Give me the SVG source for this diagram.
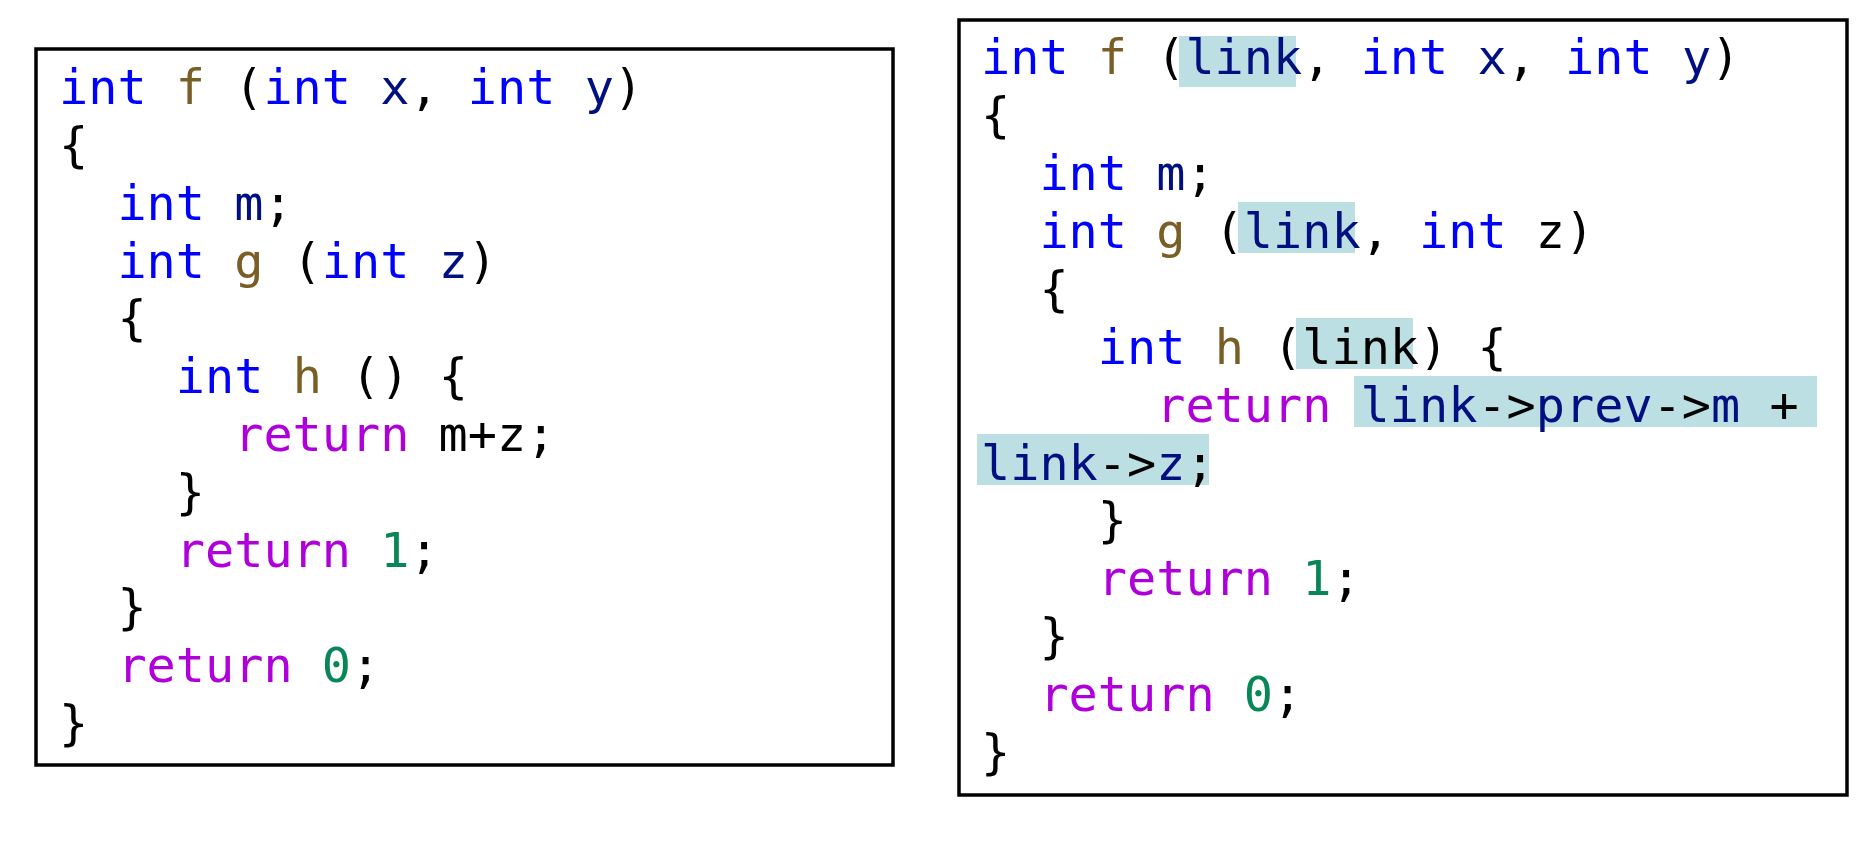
<svg xmlns="http://www.w3.org/2000/svg" width="1868" height="847" viewBox="0 0 1868 847">
<style>
text{font-family:"DejaVu Sans Mono",monospace;font-size:48.5px;fill:#000;white-space:pre}
.k{fill:#0000ff}.f{fill:#795e26}.v{fill:#001080}.r{fill:#af00db}.n{fill:#098658}
.box{fill:#fff;stroke:#000;stroke-width:3.5}
.hl{fill:#bbdfe2}
</style>
<rect width="1868" height="847" fill="#fff"/>
<g id="left">
<rect class="box" x="36" y="49" width="857" height="716"/>
<text xml:space="preserve" x="59" y="104"><tspan class="k">int</tspan> <tspan class="f">f</tspan> (<tspan class="k">int</tspan> <tspan class="v">x</tspan>, <tspan class="k">int</tspan> <tspan class="v">y</tspan>)</text>
<text xml:space="preserve" x="59" y="162">{</text>
<text xml:space="preserve" x="59" y="220">  <tspan class="k">int</tspan> <tspan class="v">m</tspan>;</text>
<text xml:space="preserve" x="59" y="278">  <tspan class="k">int</tspan> <tspan class="f">g</tspan> (<tspan class="k">int</tspan> <tspan class="v">z</tspan>)</text>
<text xml:space="preserve" x="59" y="335">  {</text>
<text xml:space="preserve" x="59" y="393">    <tspan class="k">int</tspan> <tspan class="f">h</tspan> () {</text>
<text xml:space="preserve" x="59" y="451">      <tspan class="r">return</tspan> m+z;</text>
<text xml:space="preserve" x="59" y="509">    }</text>
<text xml:space="preserve" x="59" y="567">    <tspan class="r">return</tspan> <tspan class="n">1</tspan>;</text>
<text xml:space="preserve" x="59" y="624">  }</text>
<text xml:space="preserve" x="59" y="682">  <tspan class="r">return</tspan> <tspan class="n">0</tspan>;</text>
<text xml:space="preserve" x="59" y="740">}</text>
</g>
<g id="right">
<rect class="box" x="959" y="20" width="888" height="775"/>
<rect class="hl" x="1179" y="36" width="117" height="51"/>
<rect class="hl" x="1238" y="202" width="117" height="51"/>
<rect class="hl" x="1296" y="318" width="117" height="51"/>
<rect class="hl" x="1354" y="376" width="463" height="51"/>
<rect class="hl" x="977" y="434" width="232" height="51"/>
<text xml:space="preserve" x="981" y="74"><tspan class="k">int</tspan> <tspan class="f">f</tspan> (<tspan class="v">link</tspan>, <tspan class="k">int</tspan> <tspan class="v">x</tspan>, <tspan class="k">int</tspan> <tspan class="v">y</tspan>)</text>
<text xml:space="preserve" x="981" y="132">{</text>
<text xml:space="preserve" x="981" y="190">  <tspan class="k">int</tspan> <tspan class="v">m</tspan>;</text>
<text xml:space="preserve" x="981" y="248">  <tspan class="k">int</tspan> <tspan class="f">g</tspan> (<tspan class="v">link</tspan>, <tspan class="k">int</tspan> z)</text>
<text xml:space="preserve" x="981" y="306">  {</text>
<text xml:space="preserve" x="981" y="364">    <tspan class="k">int</tspan> <tspan class="f">h</tspan> (link) {</text>
<text xml:space="preserve" x="981" y="422">      <tspan class="r">return</tspan> <tspan class="v">link</tspan>-&gt;<tspan class="v">prev</tspan>-&gt;<tspan class="v">m</tspan> +</text>
<text xml:space="preserve" x="981" y="480"><tspan class="v">link</tspan>-&gt;<tspan class="v">z</tspan>;</text>
<text xml:space="preserve" x="981" y="537">    }</text>
<text xml:space="preserve" x="981" y="595">    <tspan class="r">return</tspan> <tspan class="n">1</tspan>;</text>
<text xml:space="preserve" x="981" y="653">  }</text>
<text xml:space="preserve" x="981" y="711">  <tspan class="r">return</tspan> <tspan class="n">0</tspan>;</text>
<text xml:space="preserve" x="981" y="769">}</text>
</g>
<g id="connectors"/>
</svg>
